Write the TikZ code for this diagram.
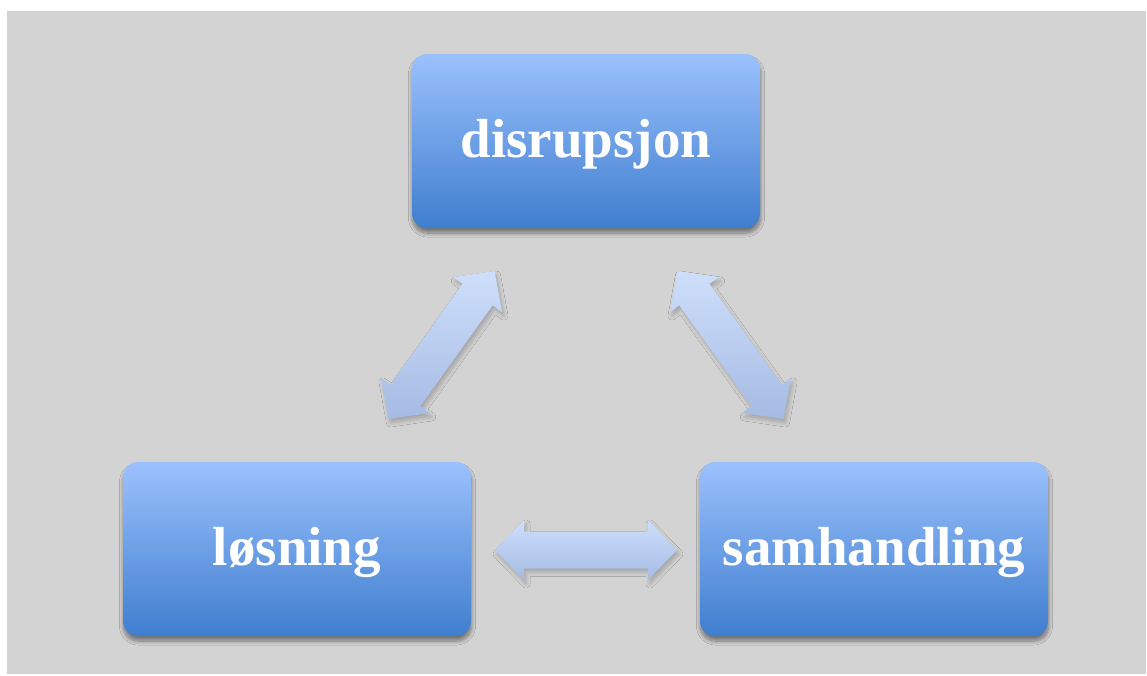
\documentclass[tikz,border=0pt]{standalone}
\usepackage{fontspec}
\setmainfont{Liberation Serif}
\usetikzlibrary{calc,shadows.blur}

\definecolor{bggray}{RGB}{211,211,211}
\definecolor{boxtop}{RGB}{155,193,253}
\definecolor{boxbot}{RGB}{63,126,207}
\definecolor{arrtop}{RGB}{206,223,252}
\definecolor{arrbot}{RGB}{166,187,227}

% double-headed block arrow between two tip coordinates
\newcommand\blockarrow[2]{%
  \path[flow] (#1)
    -- ($(#1)!29pt!(#2)!30pt!90:(#2)$)
    -- ($(#1)!29pt!(#2)!18.5pt!90:(#2)$)
    -- ($(#2)!29pt!(#1)!18.5pt!-90:(#1)$)
    -- ($(#2)!29pt!(#1)!30pt!-90:(#1)$)
    -- (#2)
    -- ($(#2)!29pt!(#1)!30pt!90:(#1)$)
    -- ($(#2)!29pt!(#1)!18.5pt!90:(#1)$)
    -- ($(#1)!29pt!(#2)!18.5pt!-90:(#2)$)
    -- ($(#1)!29pt!(#2)!30pt!-90:(#2)$)
    -- cycle;}

\begin{document}
\begin{tikzpicture}[x=1pt,y=-1pt,
  stage/.style={rounded corners=15pt, minimum width=348pt, minimum height=174pt,
    top color=boxtop, bottom color=boxbot, text=white,
    font=\fontsize{55}{60}\selectfont\bfseries,
    text height=36pt, text depth=4pt,
    blur shadow={shadow xshift=0.5pt, shadow yshift=-5pt, shadow blur steps=8,
      shadow opacity=45, shadow blur radius=4pt}},
  flow/.style={top color=arrtop, bottom color=arrbot,
    blur shadow={shadow xshift=2pt, shadow yshift=-4pt, shadow blur steps=6,
      shadow opacity=22, shadow blur radius=4pt}}]

  % canvas and backdrop
  \useasboundingbox (0,0) rectangle (1147,675);
  \fill[white] (0,0) rectangle (1147,675);
  \fill[bggray] (7,11) rectangle (1146,674);

  % the three stages
  \node[stage] (dis) at (586,141) {disrupsjon};
  \node[stage] (los) at (297,549) {løsning};
  \node[stage] (sam) at (874,549) {samhandling};

  % arrow tips
  \coordinate (l1) at (388.5,419);
  \coordinate (l2) at (494.5,271);
  \coordinate (r1) at (677.5,271);
  \coordinate (r2) at (783.5,419);
  \coordinate (h1) at (495,550);
  \coordinate (h2) at (677,550);

  \blockarrow{l1}{l2}
  \blockarrow{r1}{r2}
  \blockarrow{h1}{h2}
\end{tikzpicture}
\end{document}
